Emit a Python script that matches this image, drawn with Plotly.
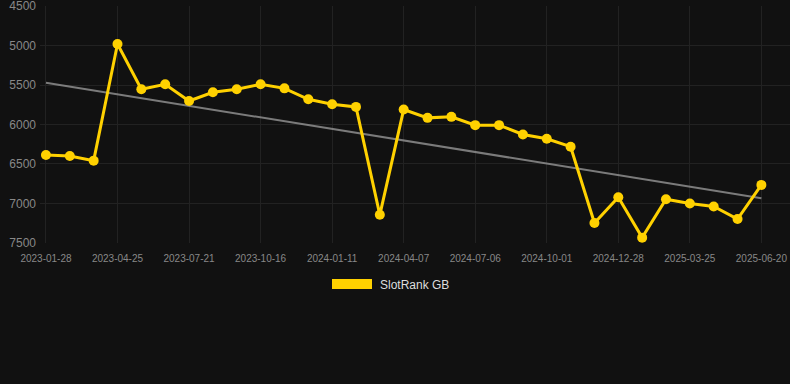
import numpy as np
import plotly.graph_objects as go

dates = ["2023-01-28","2023-02-26","2023-03-27","2023-04-25","2023-05-24","2023-06-22",
         "2023-07-21","2023-08-19","2023-09-17","2023-10-16","2023-11-14","2023-12-13",
         "2024-01-11","2024-02-09","2024-03-09","2024-04-07","2024-05-07","2024-06-06",
         "2024-07-06","2024-08-04","2024-09-02","2024-10-01","2024-10-30","2024-11-29",
         "2024-12-28","2025-01-26","2025-02-24","2025-03-25","2025-04-23","2025-05-22",
         "2025-06-20"]
rank = [6387, 6399, 6458, 4980, 5554, 5491, 5702, 5592, 5554, 5491, 5542, 5680,
        5743, 5777, 7144, 5811, 5916, 5903, 6008, 6008, 6126, 6180, 6281, 7248,
        6921, 7433, 6946, 7000, 7038, 7198, 6765]
tick_labels = ["2023-01-28","2023-04-25","2023-07-21","2023-10-16","2024-01-11",
               "2024-04-07","2024-07-06","2024-10-01","2024-12-28","2025-03-25","2025-06-20"]
y_ticks = [4500, 5000, 5500, 6000, 6500, 7000, 7500]
series_name = "SlotRank GB"

idx = np.arange(len(rank))
slope, intercept = np.polyfit(idx, rank, 1)
trend = slope * idx + intercept

YELLOW = "#FFD100"

fig = go.Figure()
fig.add_trace(go.Scatter(
    x=dates, y=trend, mode="lines", showlegend=False, hoverinfo="skip",
    line=dict(color="rgba(150,150,150,0.8)", width=2)))
fig.add_trace(go.Scatter(
    x=dates, y=rank, mode="lines+markers", name=series_name, showlegend=False,
    line=dict(color=YELLOW, width=3),
    marker=dict(color=YELLOW, size=10)))

# legend drawn manually (rectangle swatch + label) in paper coords
# plot area: x 40..790 px, y 6..243 px
def px_x(p):
    return (p - 40) / 750.0
def px_y(p):
    return (243 - p) / 237.0

fig.add_shape(type="rect", xref="paper", yref="paper",
              x0=px_x(332), x1=px_x(372), y0=px_y(289), y1=px_y(279),
              fillcolor=YELLOW, line=dict(width=0))
fig.add_annotation(xref="paper", yref="paper", x=px_x(378), y=px_y(285),
                   xanchor="left", yanchor="middle", showarrow=False,
                   text=series_name, font=dict(color="#dddddd", size=12))

fig.update_layout(
    width=790, height=384,
    paper_bgcolor="#111111", plot_bgcolor="#111111",
    margin=dict(l=40, r=0, t=6, b=141),
    showlegend=False,
    font=dict(family="Arial, Liberation Sans, sans-serif"),
)
fig.update_xaxes(
    type="category", range=[-0.25, 31.2],
    tickmode="array", tickvals=tick_labels, ticktext=tick_labels,
    tickfont=dict(color="#888888", size=10),
    ticklabelstandoff=8,
    showgrid=True, gridcolor="#222222", gridwidth=1,
    zeroline=False, showline=False, ticks="")
fig.update_yaxes(
    range=[7501, 4499], tickvals=y_ticks,
    tickfont=dict(color="#888888", size=12),
    ticklabelstandoff=3, ticklabeloverflow="allow",
    showgrid=True, gridcolor="#222222", gridwidth=1,
    zeroline=False, showline=False, ticks="")

fig.write_html("out.html", config={"displayModeBar": False},
               post_script="document.body.style.margin='0';document.body.style.background='#111111';")
